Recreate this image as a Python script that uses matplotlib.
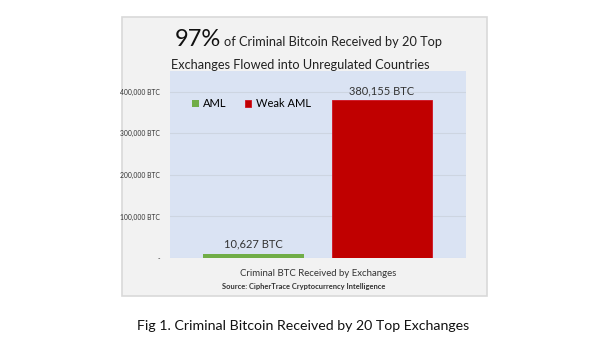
import numpy as np
import matplotlib.pyplot as plt
from matplotlib.patches import Rectangle
from matplotlib.ticker import FuncFormatter

plt.rcParams['font.family'] = ['Lato', 'DejaVu Sans']

categories = ['AML', 'Weak AML']
values = [10627, 380155]
bar_labels = ['10,627 BTC', '380,155 BTC']
colors = ['#70ad47', '#c00000']
yticks = [0, 100000, 200000, 300000, 400000]

W, H = 600, 351
fig = plt.figure(figsize=(6, 3.51), dpi=100)
fig.patch.set_facecolor('white')


def px(x, y):
    # pixel coords (from top-left) to figure fraction
    return x / W, 1 - y / H


# grey outer panel of the chart
fig.patches.append(Rectangle((122 / W, 1 - 296 / H), 365 / W, 279 / H,
                             transform=fig.transFigure, facecolor='#f2f2f2',
                             edgecolor='#d9d9d9', linewidth=1.2, zorder=-1))

ax = fig.add_axes([170 / W, 1 - 258 / H, 296 / W, 187 / H])
ax.set_zorder(2)
ax.set_facecolor('#dae3f3')
for s in ax.spines.values():
    s.set_visible(False)

x = np.arange(len(categories))
bars = ax.bar(x, values, width=0.78, color=colors, label=categories, zorder=3)
bars[1].set_edgecolor('#d01020')
bars[1].set_linewidth(0.6)

for b, lab in zip(bars, bar_labels):
    ax.text(b.get_x() + b.get_width() / 2, b.get_height() + 9000, lab,
            ha='center', va='bottom', fontsize=8, color='#333333')

ax.set_xlim(-0.65, 1.654)
ax.set_ylim(0, 450000)
ax.set_yticks(yticks)
ax.yaxis.set_major_formatter(FuncFormatter(
    lambda v, p: '-' if v == 0 else '{:,.0f} BTC'.format(v)))
ax.tick_params(axis='y', length=0, labelsize=4.9, labelcolor='#333333', pad=7)
ax.set_xticks([])
ax.grid(axis='y', color='#cdd5e1', linewidth=0.8, zorder=1)

ax.legend(loc='upper left', bbox_to_anchor=(0.03, 0.925), ncol=2, frameon=False,
          fontsize=8, handlelength=0.6, handleheight=0.6, handletextpad=0.4,
          columnspacing=1.6, borderaxespad=0.8)

# title
fig.text(*px(175, 46), '97%', fontsize=17, color='#111111', va='baseline')
fig.text(*px(224, 46), 'of Criminal Bitcoin Received by 20 Top', fontsize=9.2,
         color='#222222', va='baseline')
fig.text(*px(300, 69), 'Exchanges Flowed into Unregulated Countries',
         fontsize=9.2, color='#222222', va='baseline', ha='center')

fig.text(*px(318, 276), 'Criminal BTC Received by Exchanges', fontsize=6.9,
         color='#333333', ha='center', va='baseline')
fig.text(*px(304, 289), 'Source: CipherTrace Cryptocurrency Intelligence',
         fontsize=5.4, fontweight='bold', color='#333333', ha='center',
         va='baseline')

fig.text(*px(303, 330), 'Fig 1. Criminal Bitcoin Received by 20 Top Exchanges',
         fontsize=10.2, color='#111111', ha='center', va='baseline')

fig.savefig('out.png', dpi=100)
